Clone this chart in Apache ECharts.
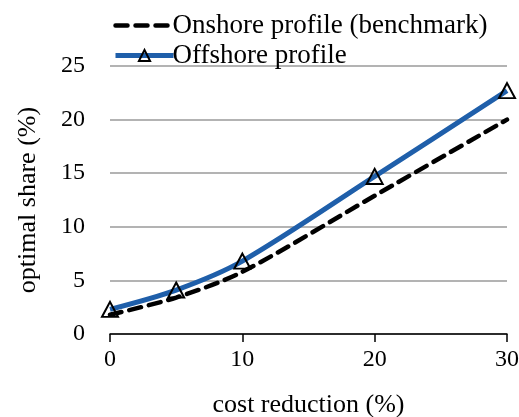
<!DOCTYPE html>
<html>
<head>
<meta charset="utf-8">
<script src="https://cdn.jsdelivr.net/npm/echarts@6/dist/echarts.min.js"></script>
<style>
  html, body { margin: 0; padding: 0; background: #fff; }
  #chart { width: 519px; height: 417px; }
</style>
</head>
<body>
<div id="chart"></div>
<script>
// cost reduction (%) and optimal share (%)
const costReduction = [0, 5, 10, 20, 30];
const onshoreShare = [1.8, 3.4, 5.8, 12.9, 20.0];
const offshoreShare = [2.3, 4.1, 6.8, 14.7, 22.7];
const yTicks = [0, 5, 10, 15, 20, 25];

const font = 'Liberation Serif, Times New Roman, serif';
const chart = echarts.init(document.getElementById('chart'));

const onshoreLine = { color: '#000', width: 4.5, type: [12, 8], cap: 'round' };
const offshoreLine = { color: '#1F5FAA', width: 5 };

chart.setOption({
  animation: false,
  grid: { left: 110, right: 12, top: 66, bottom: 83, outerBoundsMode: 'none' },
  legend: {
    orient: 'vertical',
    left: 108,
    top: 7,
    itemWidth: 58,
    itemHeight: 14,
    itemGap: 3,
    textStyle: { fontFamily: font, fontSize: 27, color: '#000', padding: [0, 0, 0, -6] },
    data: [
      { name: 'Onshore profile (benchmark)', lineStyle: onshoreLine, itemStyle: { opacity: 0 } },
      { name: 'Offshore profile', lineStyle: offshoreLine }
    ]
  },
  xAxis: {
    type: 'value',
    min: 0,
    max: 30,
    interval: 10,
    name: 'cost reduction (%)',
    nameLocation: 'middle',
    nameGap: 58,
    nameTextStyle: { fontFamily: font, fontSize: 26, color: '#000' },
    axisLine: { lineStyle: { color: '#000', width: 1.5 } },
    axisTick: { show: true, length: 8, lineStyle: { color: '#000', width: 1.5 } },
    axisLabel: { fontFamily: font, fontSize: 24, color: '#000', margin: 14 },
    splitLine: { show: false }
  },
  yAxis: {
    type: 'value',
    min: yTicks[0],
    max: yTicks[yTicks.length - 1],
    interval: 5,
    name: 'optimal share (%)',
    nameLocation: 'middle',
    nameGap: 69,
    nameTextStyle: { fontFamily: font, fontSize: 26, color: '#000' },
    axisLine: { show: false },
    axisTick: { show: false },
    axisLabel: { fontFamily: font, fontSize: 24, color: '#000', margin: 25 },
    splitLine: { lineStyle: { color: '#b3b3b3', width: 2 } }
  },
  series: [
    {
      name: 'Onshore profile (benchmark)',
      type: 'line',
      smooth: 0.3,
      symbol: 'none',
      data: costReduction.map((x, i) => [x, onshoreShare[i]]),
      itemStyle: { color: '#000' },
      lineStyle: onshoreLine,
      z: 2
    },
    {
      name: 'Offshore profile',
      type: 'line',
      smooth: 0.3,
      symbol: 'triangle',
      symbolSize: [16, 15],
      data: costReduction.map((x, i) => [x, offshoreShare[i]]),
      itemStyle: { color: 'rgba(255,255,255,0)', borderColor: '#000', borderWidth: 2 },
      lineStyle: offshoreLine,
      z: 3
    }
  ]
});
</script>
</body>
</html>
